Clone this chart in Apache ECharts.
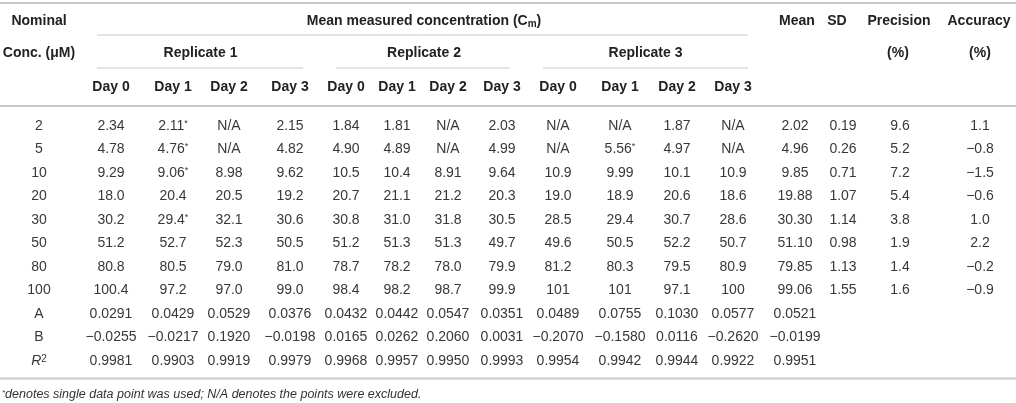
<!DOCTYPE html>
<html>
<head>
<meta charset="utf-8">
<script src="https://cdn.jsdelivr.net/npm/echarts@6/dist/echarts.min.js"></script>
<style>
  html, body { margin: 0; padding: 0; background: #fff; }
  #table { width: 1016px; height: 403px; }
</style>
</head>
<body>
<div id="table"></div>
<script>
const rowLabels = ['2', '5', '10', '20', '30', '50', '80', '100', 'A', 'B', 'R2'];
const dayLabels = ['Day 0', 'Day 1', 'Day 2', 'Day 3'];
const replicateLabels = ['Replicate 1', 'Replicate 2', 'Replicate 3'];

// each replicate: Day 0..Day 3, rows as in rowLabels
const replicate1 = [
    ['2.34', '4.78', '9.29', '18.0', '30.2', '51.2', '80.8', '100.4', '0.0291', '\u22120.0255', '0.9981'],
    ['2.11*', '4.76*', '9.06*', '20.4', '29.4*', '52.7', '80.5', '97.2', '0.0429', '\u22120.0217', '0.9903'],
    ['N/A', 'N/A', '8.98', '20.5', '32.1', '52.3', '79.0', '97.0', '0.0529', '0.1920', '0.9919'],
    ['2.15', '4.82', '9.62', '19.2', '30.6', '50.5', '81.0', '99.0', '0.0376', '\u22120.0198', '0.9979']
];
const replicate2 = [
    ['1.84', '4.90', '10.5', '20.7', '30.8', '51.2', '78.7', '98.4', '0.0432', '0.0165', '0.9968'],
    ['1.81', '4.89', '10.4', '21.1', '31.0', '51.3', '78.2', '98.2', '0.0442', '0.0262', '0.9957'],
    ['N/A', 'N/A', '8.91', '21.2', '31.8', '51.3', '78.0', '98.7', '0.0547', '0.2060', '0.9950'],
    ['2.03', '4.99', '9.64', '20.3', '30.5', '49.7', '79.9', '99.9', '0.0351', '0.0031', '0.9993']
];
const replicate3 = [
    ['N/A', 'N/A', '10.9', '19.0', '28.5', '49.6', '81.2', '101', '0.0489', '\u22120.2070', '0.9954'],
    ['N/A', '5.56*', '9.99', '18.9', '29.4', '50.5', '80.3', '101', '0.0755', '\u22120.1580', '0.9942'],
    ['1.87', '4.97', '10.1', '20.6', '30.7', '52.2', '79.5', '97.1', '0.1030', '0.0116', '0.9944'],
    ['N/A', 'N/A', '10.9', '18.6', '28.6', '50.7', '80.9', '100', '0.0577', '\u22120.2620', '0.9922']
];
const meanValues = ['2.02', '4.96', '9.85', '19.88', '30.30', '51.10', '79.85', '99.06', '0.0521', '\u22120.0199', '0.9951'];
const sdValues = ['0.19', '0.26', '0.71', '1.07', '1.14', '0.98', '1.13', '1.55'];
const precisionValues = ['9.6', '5.2', '7.2', '5.4', '3.8', '1.9', '1.4', '1.6'];
const accuracyValues = ['1.1', '\u22120.8', '\u22121.5', '\u22120.6', '1.0', '2.2', '\u22120.2', '\u22120.9'];
const footnote = '{sup|*}denotes single data point was used; N/A denotes the points were excluded.';

// column layout (centre of each column on the 0..1016 x axis)
const nominalX = 39;
const dayX = [[111, 173, 229, 290], [346, 397, 448, 502], [558, 620, 677, 733]];
const meanX = 795, sdX = 843, precisionX = 900, accuracyX = 980;

const columns = [{ x: nominalX, values: rowLabels }];
[replicate1, replicate2, replicate3].forEach((rep, r) => {
    rep.forEach((vals, d) => columns.push({ x: dayX[r][d], values: vals }));
});
columns.push({ x: meanX, values: meanValues });
columns.push({ x: sdX, values: sdValues });
columns.push({ x: precisionX, values: precisionValues });
columns.push({ x: accuracyX, values: accuracyValues });

const cells = [];
columns.forEach(col => {
    col.values.forEach((v, i) => {
        cells.push({ value: [col.x, rowLabels[i]], text: v });
    });
});

function cellText(t) {
    if (t === 'R2') return '{i|R}{sup2|2}';
    if (t.endsWith('*')) return t.slice(0, -1) + '{sup|*}';
    return t;
}

const font = '"Liberation Sans", Arial, sans-serif';
const bodyColor = '#383838';
const headColor = '#222';
const ruleColor = '#c9c9c9';

const chart = echarts.init(document.getElementById('table'));

const headerTexts = [];
function head(text, x, y) {
    headerTexts.push({
        type: 'text', x: x, y: y,
        style: {
            text: text, align: 'center', verticalAlign: 'middle',
            font: 'bold 14px ' + font, fill: headColor,
            rich: { sub: { fontSize: 10, fontWeight: 'bold', fill: headColor, verticalAlign: 'bottom', padding: [7, 0, 0, 0] } }
        }
    });
}
head('Nominal', nominalX, 21);
head('Conc. (\u03bcM)', nominalX, 53);
head('Mean measured concentration (C{sub|m})', 424, 21);
replicateLabels.forEach((t, r) => head(t, (dayX[r][0] + dayX[r][3]) / 2, 53));
dayX.forEach(xs => xs.forEach((x, d) => head(dayLabels[d], x, 87)));
head('Mean', 797, 21);
head('SD', 837, 21);
head('Precision', 899, 21);
head('(%)', 898, 53);
head('Accuracy', 979, 21);
head('(%)', 980, 53);

function rule(x1, x2, y, w) {
    return { type: 'line', shape: { x1: x1, y1: y, x2: x2, y2: y }, style: { stroke: ruleColor, lineWidth: w } };
}

chart.setOption({
    animation: false,
    grid: { left: 0, right: 0, top: 114, bottom: 30.5 },
    xAxis: { type: 'value', min: 0, max: 1016, show: false },
    yAxis: { type: 'category', data: rowLabels, inverse: true, show: false },
    graphic: [
        rule(0, 1016, 3, 2),
        rule(97, 748, 35, 1),
        rule(97, 303, 68, 1),
        rule(336, 510, 68, 1),
        rule(543, 748, 68, 1),
        rule(0, 1016, 106, 2),
        rule(0, 1016, 378.5, 2),
        {
            type: 'text', x: 2, y: 395,
            style: {
                text: footnote, align: 'left', verticalAlign: 'middle',
                font: 'italic 12.5px ' + font, fill: '#333',
                rich: { sup: { fontSize: 8, fontStyle: 'italic', fill: '#333', verticalAlign: 'top' } }
            }
        }
    ].concat(headerTexts),
    series: [{
        type: 'custom',
        data: cells,
        renderItem: function (params, api) {
            const p = api.coord([api.value(0), api.value(1)]);
            return {
                type: 'text',
                x: p[0], y: p[1],
                style: {
                    text: cellText(cells[params.dataIndex].text),
                    align: 'center', verticalAlign: 'middle',
                    font: '14px ' + font, fill: bodyColor,
                    rich: {
                        sup: { fontSize: 9, verticalAlign: 'top', fill: bodyColor },
                        sup2: { fontSize: 10, verticalAlign: 'top', fill: bodyColor },
                        i: { fontStyle: 'italic', fontSize: 14, fill: bodyColor }
                    }
                }
            };
        }
    }]
});
</script>
</body>
</html>
